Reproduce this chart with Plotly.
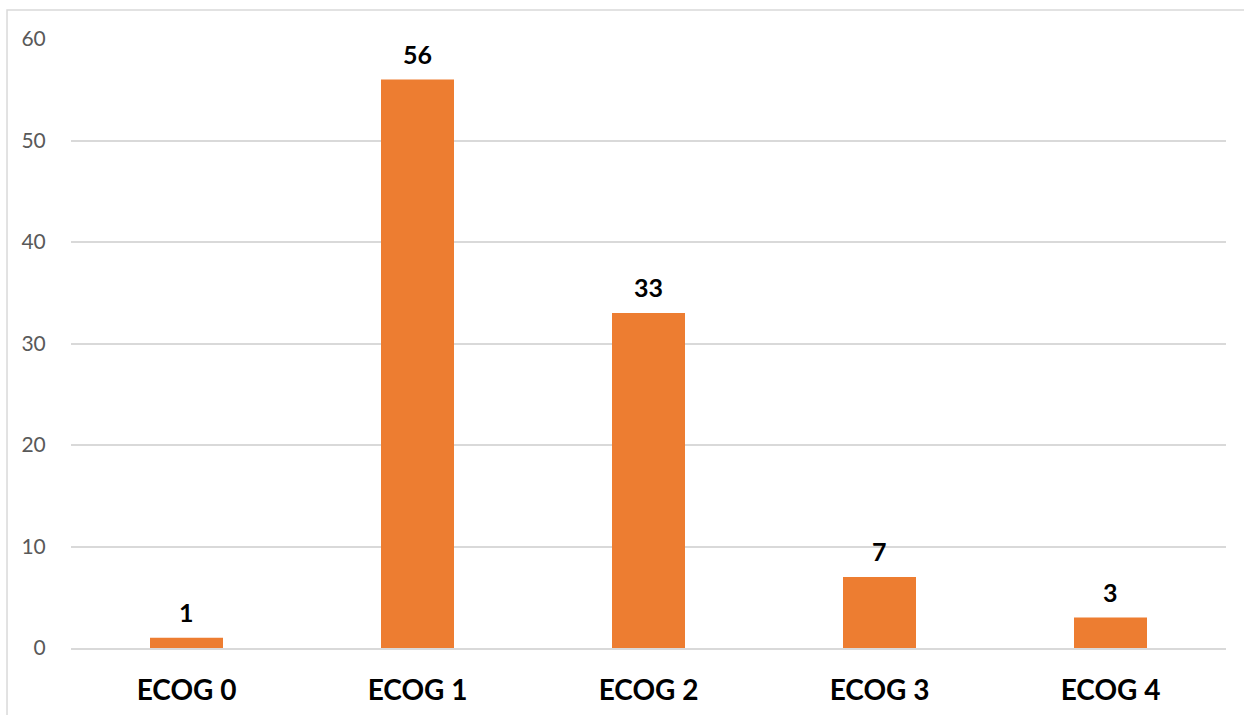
import plotly.graph_objects as go

categories = ["ECOG 0", "ECOG 1", "ECOG 2", "ECOG 3", "ECOG 4"]
counts = [1, 56, 33, 7, 3]
y_ticks = [0, 10, 20, 30, 40, 50, 60]

BAR_COLOR = "#ED7D31"
FONT = "Lato"

fig = go.Figure(
    go.Bar(
        x=categories,
        y=counts,
        marker=dict(color=BAR_COLOR, line=dict(width=0)),
        width=0.316,
        hoverinfo="x+y",
    )
)

# value labels above each bar
for cat, val in zip(categories, counts):
    fig.add_annotation(
        x=cat, y=val, text=f"<b>{val}</b>", showarrow=False,
        yanchor="bottom", yshift=9,
        font=dict(family=FONT, size=25, color="#000000"),
    )

# outer chart-area border
fig.add_shape(
    type="rect", xref="paper", yref="paper",
    x0=-0.0554, x1=1.05, y0=-0.2, y1=1.0476,
    line=dict(color="#d9d9d9", width=1.5), layer="below",
)

fig.update_layout(
    width=1244, height=715,
    margin=dict(l=71, r=18, t=39, b=67),
    paper_bgcolor="white", plot_bgcolor="white",
    showlegend=False,
    font=dict(family=FONT),
    xaxis=dict(
        automargin=False,
        showgrid=False, showline=True, linecolor="#d9d9d9", linewidth=1.5,
        ticks="outside", ticklen=17, tickcolor="rgba(0,0,0,0)",
        tickfont=dict(family=FONT, size=28, color="#000000", weight="bold"),
        zeroline=False,
    ),
    yaxis=dict(
        automargin=False,
        range=[0, 60], tickvals=y_ticks,
        showgrid=True, gridcolor="#d9d9d9", gridwidth=1.5,
        zeroline=False, showline=False,
        ticks="outside", ticklen=20, tickcolor="rgba(0,0,0,0)",
        tickfont=dict(family=FONT, size=21, color="#595959"),
    ),
)

fig.write_html("out.html")
